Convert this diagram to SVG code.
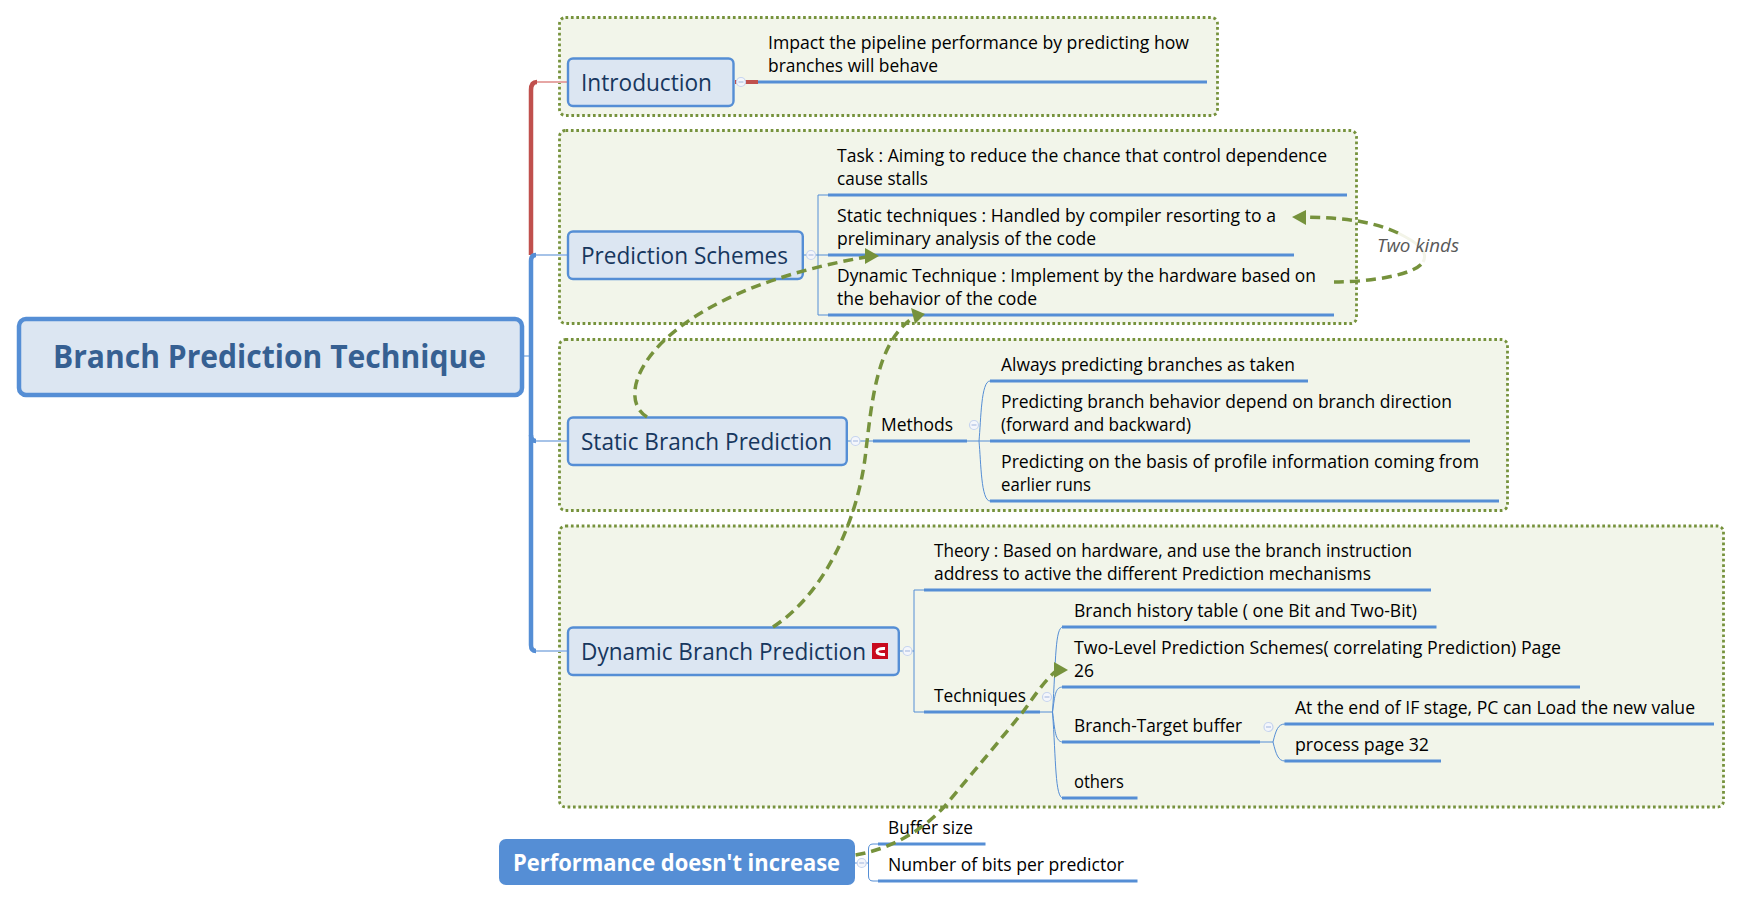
<svg xmlns="http://www.w3.org/2000/svg" width="1741" height="901" viewBox="0 0 1741 901">
<style>
text{font-family:"Open Sans","Noto Sans","Liberation Sans",sans-serif}
.grp{fill:#f2f5ea;stroke:#76923c;stroke-width:2.8;stroke-dasharray:2.7 2.7}
.root{fill:#dce6f2;stroke:#558ed5;stroke-width:4.5}
.main{fill:#dce6f2;stroke:#558ed5;stroke-width:2.400}
.rt{font-size:32px;font-weight:700;fill:#366092}
.mt{font-size:24px;fill:#17375e}
.lt{font-size:18px;fill:#000}
.pt{font-size:24px;font-weight:700;fill:#fff}
.it{font-size:18px;font-style:italic;fill:#595959}
.ul{stroke:#558ed5;stroke-width:3;fill:none}
.thin{stroke:#558ed5;stroke-width:1;fill:none}
.tr{stroke:#558ed5;stroke-width:4.5;fill:none}
.lg{stroke:#a6c3e8;stroke-width:2;fill:none}
.rel{stroke:#76923c;stroke-width:3.5;fill:none;stroke-dasharray:10 6}
.ah{fill:#76923c}
.col{fill:#f4f6fb;stroke:#c6d4ee;stroke-width:1.2}
.min{stroke:#9fb4de;stroke-width:1}
</style>
<defs>
<g id="c"><circle class="col" r="4.5"/><path class="min" d="M-2.5 0H2.500"/></g>
</defs>
<g id="boundaries">
<rect class="grp" x="559.500" y="17.500" width="658" height="98" rx="6"/>
<rect class="grp" x="559.500" y="130.500" width="797" height="193" rx="6"/>
<rect class="grp" x="559.500" y="339.500" width="948" height="171" rx="6"/>
<rect class="grp" x="559.500" y="526" width="1164" height="281" rx="6"/>
</g>
<g id="connectors">
<path d="M531 255V90Q531 82 537 82" stroke="#c0504d" stroke-width="4.500" fill="none"/>
<path d="M537 82H567" stroke="#e6a6a4" stroke-width="2" fill="none"/>
<path class="lg" d="M536 255H567M536 441H567M536 651H567"/>
<path class="tr" d="M536 255Q531 255 531 261V435Q531 441 536 441"/>
<path class="tr" d="M531 435V645Q531 651 536 651"/>
<path class="thin" d="M524 356H531"/>
<path d="M735 82H758" stroke="#c0504d" stroke-width="4" fill="none"/>
<path class="ul" d="M758 82H1207"/>
<path class="thin" d="M804 255H828M828 195H818V315H828"/>
<path class="ul" d="M828 195H1347M828 255H1294M828 315H1334"/>
<path class="thin" d="M848 441H873M967 441H990"/>
<path class="ul" d="M873 441H967"/>
<path class="thin" d="M979 441C981 420 981 381 990 381M979 441C981 462 981 501 990 501"/>
<path class="ul" d="M990 381H1308M990 441H1470M990 501H1499"/>
<path class="thin" d="M900 651H914M924 590H914V712H924"/>
<path class="ul" d="M924 590H1431M924 712H1040"/>
<path class="thin" d="M1040 712H1052.500M1052.500 712C1056 660 1055 627 1063 627M1052.500 712C1055 695 1055 687 1063 687M1052.500 712C1055 730 1055 742 1063 742M1052.500 712C1056 760 1055 798 1063 798"/>
<path class="ul" d="M1062 627H1436.500M1062 687H1580M1062 742H1260M1062 798H1137.500"/>
<path class="thin" d="M1260 742H1273M1273 742C1276 730 1278 724 1285 724M1273 742C1276 754 1278 761 1285 761"/>
<path class="ul" d="M1284.500 724H1714M1284.500 761H1441"/>
<path class="thin" d="M855 863H868.500M878 844H873Q868.500 844 868.500 849V876Q868.500 881 873 881H878"/>
<path class="ul" d="M878 844H985.500M878 881H1137.500"/>
</g>
<g id="collapse-marks">
<use href="#c" x="741" y="82"/><use href="#c" x="811" y="255"/><use href="#c" x="855.500" y="441"/><use href="#c" x="974" y="425"/><use href="#c" x="907.500" y="651"/><use href="#c" x="1047" y="697"/><use href="#c" x="1268.500" y="727"/><use href="#c" x="861.700" y="863"/>
</g>
<g id="root"><rect class="root" x="19" y="319" width="503" height="76" rx="7"/><text class="rt" x="53" y="368" textLength="433" lengthAdjust="spacingAndGlyphs">Branch Prediction Technique</text></g>
<g id="introduction"><rect class="main" x="568" y="58.500" width="165.500" height="47.500" rx="5"/><text class="mt" x="581" y="91" textLength="131" lengthAdjust="spacingAndGlyphs">Introduction</text></g>
<g id="prediction-schemes"><rect class="main" x="568" y="231.500" width="234.800" height="47.500" rx="5"/><text class="mt" x="581" y="264" textLength="207" lengthAdjust="spacingAndGlyphs">Prediction Schemes</text></g>
<g id="static-branch"><rect class="main" x="568" y="417.500" width="278.800" height="47.500" rx="5"/><text class="mt" x="581" y="450" textLength="251" lengthAdjust="spacingAndGlyphs">Static Branch Prediction</text></g>
<g id="dynamic-branch"><rect class="main" x="568" y="627.500" width="330.800" height="47.500" rx="5"/><text class="mt" x="581" y="660" textLength="285" lengthAdjust="spacingAndGlyphs">Dynamic Branch Prediction</text><rect x="872" y="643" width="16" height="16" fill="#c80a1e"/><path d="M885 648.500C879 648 877 650 877 651.500C877 653 879 655 885 654.500" fill="none" stroke="#fff" stroke-width="3"/></g>
<g id="performance"><rect x="499" y="839" width="356" height="46" rx="7" fill="#558ed5"/><text class="pt" x="513" y="871" textLength="327" lengthAdjust="spacingAndGlyphs">Performance doesn't increase</text></g>
<g id="leaf-intro"><text class="lt" x="768" y="49" textLength="421" lengthAdjust="spacingAndGlyphs">Impact the pipeline performance by predicting how</text><text class="lt" x="768" y="72" textLength="170" lengthAdjust="spacingAndGlyphs">branches will behave</text></g>
<g id="leaf-task"><text class="lt" x="837" y="162" textLength="490" lengthAdjust="spacingAndGlyphs">Task : Aiming to reduce the chance that control dependence</text><text class="lt" x="837" y="185" textLength="91" lengthAdjust="spacingAndGlyphs">cause stalls</text></g>
<g id="leaf-static-tech"><text class="lt" x="837" y="222" textLength="439" lengthAdjust="spacingAndGlyphs">Static techniques : Handled by compiler resorting to a</text><text class="lt" x="837" y="245" textLength="259" lengthAdjust="spacingAndGlyphs">preliminary analysis of the code</text></g>
<g id="leaf-dynamic-tech"><text class="lt" x="837" y="282" textLength="479" lengthAdjust="spacingAndGlyphs">Dynamic Technique : Implement by the hardware based on</text><text class="lt" x="837" y="305" textLength="200" lengthAdjust="spacingAndGlyphs">the behavior of the code</text></g>
<g id="methods"><text class="lt" x="881" y="431" textLength="72" lengthAdjust="spacingAndGlyphs">Methods</text></g>
<g id="leaf-always"><text class="lt" x="1001" y="371" textLength="294" lengthAdjust="spacingAndGlyphs">Always predicting branches as taken</text></g>
<g id="leaf-direction"><text class="lt" x="1001" y="408" textLength="451" lengthAdjust="spacingAndGlyphs">Predicting branch behavior depend on branch direction</text><text class="lt" x="1001" y="431" textLength="190" lengthAdjust="spacingAndGlyphs">(forward and backward)</text></g>
<g id="leaf-profile"><text class="lt" x="1001" y="468" textLength="478" lengthAdjust="spacingAndGlyphs">Predicting on the basis of profile information coming from</text><text class="lt" x="1001" y="491" textLength="90" lengthAdjust="spacingAndGlyphs">earlier runs</text></g>
<g id="leaf-theory"><text class="lt" x="934" y="557" textLength="478" lengthAdjust="spacingAndGlyphs">Theory : Based on hardware, and use the branch instruction</text><text class="lt" x="934" y="580" textLength="437" lengthAdjust="spacingAndGlyphs">address to active the different Prediction mechanisms</text></g>
<g id="techniques"><text class="lt" x="934" y="702" textLength="92" lengthAdjust="spacingAndGlyphs">Techniques</text></g>
<g id="leaf-bht"><text class="lt" x="1074" y="617" textLength="343" lengthAdjust="spacingAndGlyphs">Branch history table ( one Bit and Two-Bit)</text></g>
<g id="leaf-two-level"><text class="lt" x="1074" y="654" textLength="487" lengthAdjust="spacingAndGlyphs">Two-Level Prediction Schemes( correlating Prediction) Page</text><text class="lt" x="1074" y="677" textLength="20" lengthAdjust="spacingAndGlyphs">26</text></g>
<g id="leaf-btb"><text class="lt" x="1074" y="732" textLength="168" lengthAdjust="spacingAndGlyphs">Branch-Target buffer</text></g>
<g id="leaf-others"><text class="lt" x="1074" y="788" textLength="50" lengthAdjust="spacingAndGlyphs">others</text></g>
<g id="leaf-if"><text class="lt" x="1295" y="714" textLength="400" lengthAdjust="spacingAndGlyphs">At the end of IF stage, PC can Load the new value</text></g>
<g id="leaf-process"><text class="lt" x="1295" y="751" textLength="134" lengthAdjust="spacingAndGlyphs">process page 32</text></g>
<g id="leaf-buffer"><text class="lt" x="888" y="834" textLength="85" lengthAdjust="spacingAndGlyphs">Buffer size</text></g>
<g id="leaf-bits"><text class="lt" x="888" y="871" textLength="236" lengthAdjust="spacingAndGlyphs">Number of bits per predictor</text></g>
<g id="relationships">
<path class="rel" d="M647 417C610 395 650 295 866 257"/>
<polygon class="ah" points="879,256 865,248 865,264"/>
<path class="rel" d="M773 627C830 590 860 510 866 450C872 400 877 345 910 320"/>
<polygon class="ah" points="925,314 911,308 915,324"/>
<path class="rel" d="M855.600 855C880 851 915 838 944 807C975 770 1000 740 1022 713C1032 700 1042 683 1057 670"/>
<polygon class="ah" points="1068,670 1054,662 1054,678"/>
<path class="rel" d="M1334 282C1370 282 1415 275 1423 262"/>
<path d="M1423 262C1430 250 1412 240 1398 233" stroke="#f3f4e8" stroke-width="3" fill="none"/>
<path class="rel" d="M1398 233C1370 220 1340 218 1306 217"/>
<polygon class="ah" points="1292,217 1306,210 1306,225"/>
</g>
<g id="label-two-kinds"><text class="it" x="1377" y="252" textLength="82" lengthAdjust="spacingAndGlyphs">Two kinds</text></g>
</svg>
